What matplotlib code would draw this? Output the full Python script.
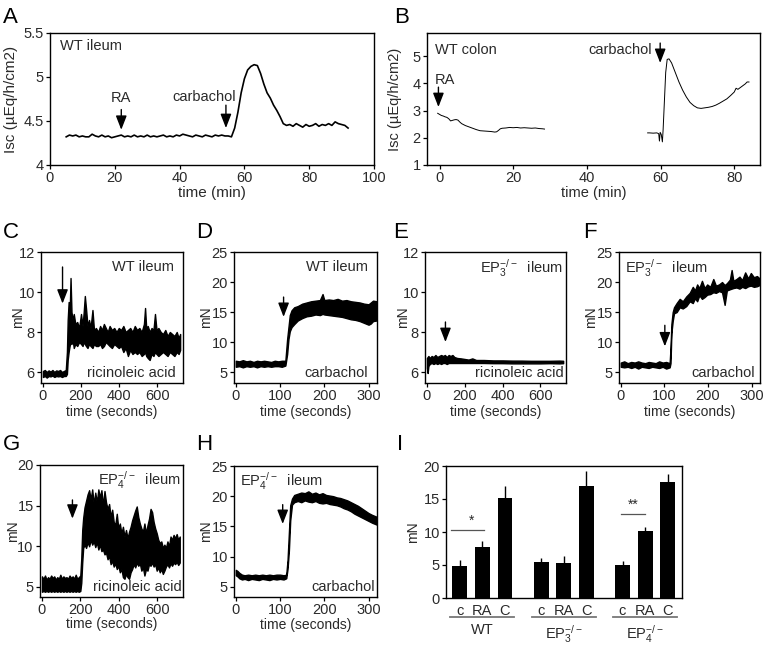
import matplotlib
matplotlib.use('Agg')
import matplotlib.pyplot as plt

plt.rcParams['font.family'] = ['Liberation Sans', 'DejaVu Sans']
plt.rcParams['mathtext.default'] = 'regular'
plt.rcParams['font.size'] = 10

# ---- data ----
# A: WT ileum Isc (min, uEq/h/cm2)
a_time = list(range(5, 93))
a_isc = [4.32, 4.34, 4.33, 4.34, 4.32, 4.33, 4.32, 4.32, 4.35, 4.33, 4.32, 4.34, 4.32, 4.33, 4.31,
         4.32, 4.33, 4.34, 4.32, 4.33, 4.32, 4.34, 4.32, 4.33, 4.32, 4.34, 4.32, 4.33, 4.32, 4.33,
         4.34, 4.32, 4.33, 4.32, 4.34, 4.33, 4.35, 4.34, 4.33, 4.32, 4.34, 4.33, 4.32, 4.34, 4.33,
         4.32, 4.34, 4.33, 4.34, 4.33, 4.33, 4.32, 4.42, 4.60, 4.82, 4.98, 5.08, 5.12, 5.14, 5.13,
         5.04, 4.92, 4.82, 4.76, 4.68, 4.62, 4.55, 4.47, 4.45, 4.46, 4.44, 4.47, 4.45, 4.43, 4.46,
         4.44, 4.45, 4.47, 4.44, 4.46, 4.45, 4.47, 4.45, 4.49, 4.47, 4.46, 4.45, 4.42]

# B: WT colon Isc, two recordings
b_time1 = [-0.5, 0, 0.5, 1, 1.5, 2, 2.5, 3, 3.5, 4, 4.5, 5, 5.5, 6, 7, 8, 9, 10, 11, 12, 13, 14, 15,
           15.5, 16, 16.5, 17, 18, 19, 20, 21, 22, 23, 24, 25, 26, 27, 28, 28.5]
b_isc1 = [2.9, 2.86, 2.82, 2.8, 2.77, 2.75, 2.7, 2.62, 2.64, 2.66, 2.67, 2.65, 2.58, 2.52, 2.45, 2.4,
          2.35, 2.3, 2.26, 2.25, 2.24, 2.23, 2.21, 2.22, 2.27, 2.33, 2.35, 2.36, 2.38, 2.37, 2.38,
          2.36, 2.37, 2.36, 2.35, 2.36, 2.34, 2.33, 2.32]
b_time2 = [56.5, 57, 58, 59, 59.5, 59.7, 59.9, 60.2, 60.5, 60.7, 61, 61.4, 61.8, 62.3, 63, 64, 65, 66,
           67, 68, 69, 70, 71, 72, 73, 74, 75, 76, 77, 78, 79, 80, 80.5, 81, 82, 83, 83.5, 84]
b_isc2 = [2.18, 2.18, 2.17, 2.18, 2.15, 1.88, 2.2, 2.12, 1.85, 2.3, 3.2, 4.4, 4.88, 4.9, 4.75, 4.4,
          4.05, 3.75, 3.5, 3.3, 3.18, 3.1, 3.08, 3.1, 3.12, 3.15, 3.2, 3.27, 3.35, 3.43, 3.55, 3.68,
          3.82, 3.78, 3.88, 3.98, 4.05, 4.05]

# C-H: force traces as (seconds, lower edge, upper edge) of the noisy band, mN
c_trace = [(0, 5.75, 6.05), (10, 5.8, 6.1), (20, 5.72, 6.0), (30, 5.8, 6.08), (40, 5.78, 6.02),
           (50, 5.82, 6.1), (60, 5.75, 6.0), (70, 5.8, 6.08), (80, 5.78, 6.05), (90, 5.8, 6.1),
           (100, 5.75, 6.0), (110, 5.8, 6.05), (120, 5.8, 6.1), (126, 5.9, 7.0), (130, 6.6, 8.6),
           (135, 7.0, 9.5), (140, 7.3, 8.8), (145, 7.5, 10.7), (150, 7.4, 9.0), (156, 7.6, 8.6),
           (162, 7.2, 8.9), (170, 7.4, 8.4), (180, 7.3, 8.5), (190, 7.5, 8.2), (200, 7.4, 8.9),
           (208, 7.3, 8.3), (214, 7.5, 9.0), (220, 7.4, 9.8), (226, 7.3, 9.2), (234, 7.2, 8.3),
           (242, 7.4, 8.6), (250, 7.3, 8.2), (260, 7.2, 9.1), (268, 7.4, 8.1), (278, 7.3, 8.2),
           (290, 7.3, 8.0), (300, 7.4, 8.3), (310, 7.2, 8.1), (320, 7.3, 8.4), (330, 7.5, 8.2),
           (340, 7.4, 8.0), (350, 7.3, 8.3), (362, 7.2, 8.1), (374, 7.4, 8.2), (386, 7.3, 8.0),
           (398, 7.2, 8.2), (410, 7.3, 8.1), (422, 7.0, 8.3), (434, 7.2, 8.0), (446, 6.8, 8.1),
           (458, 7.1, 8.2), (470, 6.9, 8.0), (482, 7.0, 8.3), (494, 6.9, 8.1), (506, 7.0, 8.2),
           (518, 6.8, 8.0), (530, 6.9, 8.4), (536, 7.0, 9.2), (542, 6.8, 8.2), (550, 6.7, 8.3),
           (560, 6.6, 8.0), (570, 6.9, 8.2), (580, 6.8, 8.1), (588, 7.0, 8.9), (596, 6.9, 8.1),
           (606, 6.8, 8.2), (618, 6.9, 8.0), (630, 7.0, 7.9), (642, 6.9, 8.1), (654, 6.8, 7.8),
           (666, 7.0, 8.0), (678, 6.9, 7.9), (690, 6.8, 7.8), (702, 7.0, 8.0), (712, 6.9, 7.7),
           (720, 7.1, 7.9)]

d_trace = [(0, 5.9, 6.9), (8, 6.0, 6.8), (16, 5.8, 7.0), (24, 6.0, 6.8), (32, 5.9, 6.9), (40, 6.0, 6.7),
           (48, 5.8, 6.9), (56, 6.0, 6.8), (64, 5.9, 6.9), (72, 6.0, 6.8), (80, 5.9, 6.7), (88, 6.0, 6.9),
           (96, 6.0, 6.8), (104, 5.9, 6.9), (112, 6.1, 6.9), (116, 8.0, 10.5), (119, 10.5, 12.5),
           (122, 11.8, 14.5), (126, 12.5, 15.3), (132, 13.0, 15.8), (140, 13.6, 16.0), (150, 14.0, 16.4),
           (160, 14.3, 16.6), (170, 14.4, 16.8), (180, 14.6, 16.9), (190, 14.5, 17.0), (196, 14.7, 18.0),
           (200, 14.6, 17.0), (210, 14.5, 17.1), (220, 14.4, 17.0), (230, 14.3, 17.2), (240, 14.2, 16.9),
           (250, 14.0, 17.0), (260, 13.8, 16.8), (270, 13.7, 16.7), (280, 13.5, 16.6), (290, 13.2, 16.4),
           (300, 12.9, 16.3), (305, 13.1, 16.6), (310, 13.5, 16.9), (318, 13.6, 16.8)]

e_trace = [(0, 6.2, 6.7), (4, 5.95, 6.75), (8, 6.3, 6.8), (15, 6.4, 6.7), (25, 6.45, 6.8), (35, 6.4, 6.75),
           (45, 6.45, 6.85), (55, 6.4, 6.75), (65, 6.45, 6.8), (75, 6.4, 6.85), (85, 6.45, 6.8),
           (95, 6.45, 6.85), (105, 6.4, 6.75), (115, 6.45, 6.85), (125, 6.45, 6.8), (135, 6.45, 6.85),
           (145, 6.45, 6.75), (160, 6.45, 6.7), (180, 6.45, 6.68), (200, 6.45, 6.65), (220, 6.45, 6.62),
           (240, 6.45, 6.68), (260, 6.45, 6.6), (300, 6.45, 6.6), (350, 6.44, 6.58), (400, 6.44, 6.58),
           (450, 6.43, 6.57), (500, 6.43, 6.57), (550, 6.43, 6.56), (600, 6.43, 6.56), (650, 6.44, 6.56),
           (700, 6.43, 6.57), (720, 6.44, 6.56)]

f_trace = [(0, 5.9, 6.6), (8, 5.8, 6.8), (16, 5.9, 6.5), (24, 5.7, 6.7), (32, 5.9, 6.6), (40, 5.6, 6.8),
           (48, 5.9, 6.6), (56, 5.8, 6.5), (64, 5.7, 6.7), (72, 5.9, 6.6), (80, 5.8, 6.5), (88, 5.7, 6.8),
           (96, 5.9, 6.6), (104, 5.6, 6.7), (112, 5.8, 6.5), (114, 6.5, 9.0), (116, 11.5, 13.0),
           (119, 13.5, 15.0), (122, 14.8, 15.8), (128, 15.0, 16.5), (135, 15.8, 17.2), (142, 15.6, 16.8),
           (150, 16.0, 17.6), (158, 16.8, 18.2), (165, 16.5, 19.2), (170, 17.3, 18.6), (175, 16.8, 19.6),
           (180, 17.8, 19.0), (186, 17.2, 20.2), (192, 17.5, 19.0), (198, 17.9, 19.6), (205, 18.0, 19.2),
           (212, 18.3, 20.5), (218, 18.2, 19.4), (225, 18.5, 19.6), (232, 18.3, 20.0), (238, 16.2, 19.5),
           (243, 18.6, 19.8), (250, 18.8, 20.4), (254, 18.9, 22.0), (258, 19.0, 20.2), (265, 19.1, 20.5),
           (272, 18.9, 20.9), (278, 19.2, 20.3), (285, 19.0, 21.6), (292, 19.3, 20.6), (298, 19.4, 21.5),
           (305, 19.2, 20.8), (312, 19.3, 21.0), (318, 19.5, 20.6)]

g_trace = [(0, 4.4, 6.3), (8, 4.5, 6.0), (16, 4.4, 6.4), (24, 4.5, 5.9), (32, 4.4, 6.2), (40, 4.5, 6.0),
           (48, 4.4, 6.4), (56, 4.5, 6.1), (64, 4.4, 6.3), (72, 4.5, 5.9), (80, 4.4, 6.2), (88, 4.5, 6.0),
           (96, 4.4, 6.5), (104, 4.5, 6.0), (112, 4.4, 6.3), (120, 4.5, 6.1), (128, 4.4, 6.2),
           (136, 4.5, 6.0), (144, 4.4, 6.4), (152, 4.5, 6.1), (160, 4.4, 6.3), (168, 4.5, 6.0),
           (176, 4.4, 6.5), (184, 4.5, 6.0), (192, 4.4, 6.2), (200, 4.5, 6.4), (205, 5.5, 8.5),
           (210, 8.0, 12.0), (215, 9.8, 13.5), (222, 10.2, 14.8), (230, 9.8, 15.6), (238, 10.5, 16.4),
           (246, 10.0, 16.9), (254, 10.8, 15.8), (262, 10.2, 17.0), (270, 10.6, 15.2), (278, 9.9, 16.6),
           (286, 10.5, 15.4), (294, 9.6, 17.0), (302, 10.2, 16.0), (310, 9.4, 16.9), (318, 9.6, 15.0),
           (326, 9.0, 16.8), (334, 9.2, 15.4), (342, 8.4, 14.6), (350, 8.8, 15.2), (358, 7.8, 13.6),
           (366, 8.2, 14.5), (374, 7.5, 13.0), (382, 7.9, 12.6), (390, 7.2, 14.0), (398, 7.6, 12.2),
           (406, 6.8, 12.8), (414, 7.2, 11.6), (422, 6.2, 12.4), (430, 6.0, 11.2), (438, 6.6, 12.0),
           (446, 6.2, 11.0), (454, 6.0, 11.8), (462, 6.8, 12.4), (470, 7.2, 13.2), (478, 7.8, 13.8),
           (486, 7.4, 14.4), (494, 8.0, 14.9), (502, 7.6, 13.6), (510, 7.9, 12.8), (518, 7.0, 12.2),
           (526, 7.4, 11.8), (534, 6.4, 12.8), (542, 7.2, 11.6), (550, 7.0, 12.6), (558, 7.8, 13.4),
           (566, 7.6, 14.6), (574, 8.0, 14.2), (582, 7.5, 13.0), (590, 7.8, 12.2), (598, 7.0, 11.6),
           (606, 7.4, 10.8), (614, 6.8, 10.4), (622, 7.2, 10.6), (630, 6.6, 9.8), (638, 7.0, 10.2),
           (646, 7.5, 9.8), (654, 7.8, 10.6), (662, 7.4, 10.0), (670, 7.9, 11.2), (678, 7.6, 10.8),
           (686, 8.0, 11.4), (694, 7.8, 11.0), (702, 8.1, 11.5), (710, 7.7, 10.8), (718, 8.0, 11.2)]

h_trace = [(0, 6.9, 7.8), (4, 6.7, 7.6), (8, 6.4, 7.3), (14, 6.2, 7.0), (20, 6.3, 6.9), (28, 6.1, 7.0),
           (36, 6.3, 6.9), (44, 6.2, 7.0), (52, 6.1, 6.9), (60, 6.3, 7.0), (68, 6.2, 6.9), (76, 6.1, 7.0),
           (84, 6.3, 6.9), (92, 6.2, 7.0), (100, 6.3, 7.0), (108, 6.2, 6.9), (114, 6.4, 7.0),
           (117, 8.0, 9.5), (120, 11.0, 14.0), (123, 16.0, 18.5), (127, 18.6, 19.6), (132, 19.0, 20.2),
           (140, 19.2, 20.4), (148, 19.0, 20.6), (156, 19.3, 20.5), (164, 19.1, 20.8), (172, 19.0, 20.4),
           (180, 19.2, 20.6), (188, 18.9, 20.3), (196, 18.8, 20.5), (204, 18.9, 20.2), (212, 18.7, 20.1),
           (220, 18.6, 20.0), (228, 18.5, 19.8), (236, 18.3, 19.7), (244, 18.0, 19.5), (252, 17.8, 19.3),
           (260, 17.5, 19.0), (268, 17.1, 18.7), (276, 16.8, 18.4), (284, 16.5, 18.0), (292, 16.2, 17.6),
           (300, 15.9, 17.2), (308, 15.6, 16.9), (318, 15.3, 16.6)]

# I: bar summary
groups = ['WT', r'EP$_3^{-/-}$', r'EP$_4^{-/-}$']
conditions = ['c', 'RA', 'C']
bar_mean = [4.9, 7.7, 15.1, 5.5, 5.3, 16.9, 5.0, 10.15, 17.65]
bar_err = [0.8, 0.9, 1.9, 0.6, 1.1, 2.3, 0.6, 0.65, 1.2]

TXT = '#2a2a2a'
W, H = 765, 647
fig = plt.figure(figsize=(W / 100, H / 100), dpi=100)


def box(l, t, r, b):
    return fig.add_axes([l / W, 1 - b / H, (r - l) / W, (b - t) / H])


def style(ax):
    for s in ax.spines.values():
        s.set_linewidth(1.0)
    ax.tick_params(direction='out', length=3, width=0.9, labelsize=10.5, pad=1.5,
                   labelcolor=TXT, color='k')


def arrow(ax, x, y0, y1):
    ax.annotate('', xy=(x, y1), xytext=(x, y0),
                arrowprops=dict(arrowstyle='-|>,head_length=0.85,head_width=0.33',
                                lw=1.0, color='k', shrinkA=0, shrinkB=0))


def band(ax, rows):
    t = [r[0] for r in rows]
    lo = [r[1] for r in rows]
    hi = [r[2] for r in rows]
    ax.fill_between(t, lo, hi, facecolor='k', edgecolor='k', lw=1.0)


def labels(ax, xlab, ylab, xl, yl, fs=10):
    ax.set_xlabel(xlab, fontsize=fs, color=TXT, va='top')
    ax.set_ylabel(ylab, fontsize=fs, color=TXT)
    ax.xaxis.set_label_coords(0.5, xl)
    ax.yaxis.set_label_coords(yl, 0.5)


def letter(x, y, s):
    fig.text(x / W, 1 - y / H, s, fontsize=16, va='top', ha='left', color='k')


# ---- A ----
ax = box(50, 33, 374, 165)
style(ax)
ax.plot(a_time, a_isc, color='k', lw=1.2)
ax.set_xlim(0, 100)
ax.set_ylim(4, 5.5)
ax.set_xticks([0, 20, 40, 60, 80, 100])
ax.set_yticks([4, 4.5, 5, 5.5], ['4', '4.5', '5', '5.5'])
ax.text(0.03, 0.9, 'WT ileum', transform=ax.transAxes, va='center', color=TXT, fontsize=10.5)
ax.text(22, 4.76, 'RA', ha='center', va='center', color=TXT, fontsize=10.5)
arrow(ax, 22, 4.63, 4.40)
ax.text(47.5, 4.77, 'carbachol', ha='center', va='center', color=TXT, fontsize=10.5)
arrow(ax, 54.3, 4.68, 4.42)
labels(ax, 'time (min)', 'Isc (µEq/h/cm2)', -0.16, -0.099, fs=11)
letter(3, 7, 'A')

# ---- B ----
ax = box(427, 33, 760, 165)
style(ax)
ax.plot(b_time1, b_isc1, color='k', lw=0.7)
ax.plot(b_time2, b_isc2, color='k', lw=0.7)
ax.set_xlim(-3.4, 87)
ax.set_ylim(1, 5.85)
ax.set_xticks([0, 20, 40, 60, 80])
ax.set_yticks([1, 2, 3, 4, 5])
ax.text(0.024, 0.87, 'WT colon', transform=ax.transAxes, va='center', color=TXT, fontsize=10.5)
ax.text(-1.4, 4.13, 'RA', ha='left', va='center', color=TXT, fontsize=10.5)
arrow(ax, -0.3, 3.86, 3.13)
ax.text(57.6, 5.22, 'carbachol', ha='right', va='center', color=TXT, fontsize=10.5)
arrow(ax, 59.9, 5.48, 4.75)
labels(ax, 'time (min)', 'Isc (µEq/h/cm2)', -0.16, -0.075, fs=10.5)
letter(394, 7, 'B')

# ---- C-H traces ----
trace_panels = [
    (c_trace, (41, 252, 183, 383), (-10, 735), (5.45, 12), [6, 8, 10, 12], [0, 200, 400, 600],
     (103, 11.25, 9.42), 'WT ileum', 0.94, 'right', 'ricinoleic acid', 0.95, 0.885, -0.113, -0.168, 'C', (3, 222)),
    (d_trace, (234, 252, 377, 383), (-4, 319), (3.2, 25), [5, 10, 15, 20, 25], [0, 100, 200, 300],
     (108, 17.5, 14.2), 'WT ileum', 0.94, 'right', 'carbachol', 0.94, 0.885, -0.147, -0.168, 'D', (196, 222)),
    (e_trace, (425, 252, 566, 383), (-10, 735), (5.45, 12), [6, 8, 10, 12], [0, 200, 400, 600],
     (98, 8.5, 7.5), r'EP$_3^{-/-}$  ileum', 0.98, 'right', 'ricinoleic acid', 0.985, 0.875, -0.106, -0.168, 'E', (393, 222)),
    (f_trace, (619, 252, 760, 383), (-4, 319), (3.2, 25), [5, 10, 15, 20, 25], [0, 100, 200, 300],
     (101, 12.8, 9.3), r'EP$_3^{-/-}$  ileum', 0.04, 'left', 'carbachol', 0.965, 0.875, -0.149, -0.168, 'F', (583, 222)),
    (g_trace, (40, 465, 183, 597), (-10, 735), (3.76, 20), [5, 10, 15, 20], [0, 200, 400, 600],
     (159, 15.7, 13.4), r'EP$_4^{-/-}$  ileum', 0.985, 'right', 'ricinoleic acid', 0.99, 0.885, -0.14, -0.15, 'G', (3, 434)),
    (h_trace, (234, 466, 377, 597), (-4, 319), (3.3, 25), [5, 10, 15, 20, 25], [0, 100, 200, 300],
     (106, 18.6, 15.4), r'EP$_4^{-/-}$  ileum', 0.04, 'left', 'carbachol', 0.985, 0.885, -0.147, -0.16, 'H', (196, 434)),
]

for (rows, rect, xlim, ylim, yt, xt, arr, name, name_x, side, drug, drug_x, name_y,
     ylx, xly, let, lpos) in trace_panels:
    ax = box(*rect)
    style(ax)
    band(ax, rows)
    ax.set_xlim(*xlim)
    ax.set_ylim(*ylim)
    ax.set_yticks(yt)
    ax.set_xticks(xt)
    arrow(ax, *arr)
    ax.text(name_x, name_y, name, transform=ax.transAxes, ha=side, va='center', color=TXT,
            fontsize=10.5)
    ax.text(drug_x, 0.075, drug, transform=ax.transAxes, ha='right', va='center', color=TXT,
            fontsize=10.5)
    labels(ax, 'time (seconds)', 'mN', xly, ylx)
    letter(lpos[0], lpos[1], let)

# ---- I ----
ax = box(446, 466, 682, 598)
style(ax)
pos = [g * 3.6 + k for g in range(3) for k in range(3)]
ax.bar(pos, bar_mean, width=0.66, color='k')
ax.errorbar(pos, bar_mean, yerr=[[0] * len(bar_err), bar_err], fmt='none', ecolor='k',
            elinewidth=1.0, capsize=0)
ax.set_xlim(-0.61, 9.83)
ax.set_ylim(0, 20)
ax.set_yticks([0, 5, 10, 15, 20])
ax.set_xticks(pos, conditions * 3)
ax.tick_params(axis='x', length=0, pad=4)
ax.set_ylabel('mN', fontsize=10, color=TXT)
ax.yaxis.set_label_coords(-0.11, 0.5)
# significance marks
ax.plot([pos[0] - 0.4, pos[1] + 0.05], [10.35, 10.35], color='#555', lw=0.9)
ax.text(0.52, 10.7, '*', ha='center', va='bottom', fontsize=10, color=TXT)
ax.plot([pos[6] - 0.07, pos[7] - 0.02], [12.7, 12.7], color='#555', lw=0.9)
ax.text(7.65, 13.0, '**', ha='center', va='bottom', fontsize=10, color=TXT)
# group underlines and names
tr = ax.get_xaxis_transform()
for g, name in enumerate(groups):
    c = pos[3 * g + 1]
    ax.plot([c - 1.42, c + 1.42], [-0.146, -0.146], transform=tr, clip_on=False,
            color='#777', lw=1.3)
    ax.text(c, -0.19, name, transform=tr, ha='center', va='top', fontsize=10.5, color=TXT)
letter(397, 434, 'I')

fig.savefig('out.png', dpi=100)
